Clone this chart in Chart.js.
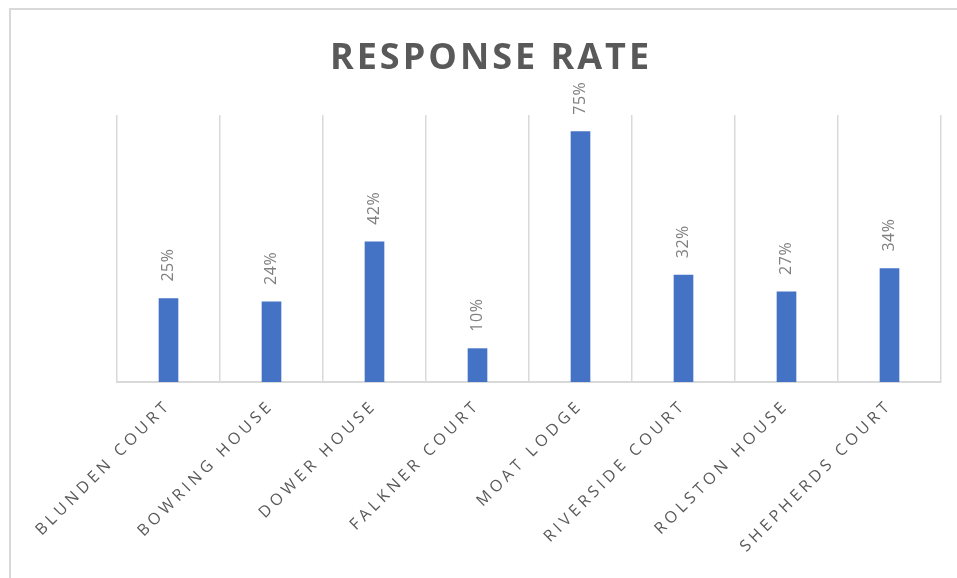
<!DOCTYPE html>
<html>
<head>
<meta charset="utf-8">
<title>Response Rate</title>
<script src="https://cdn.jsdelivr.net/npm/chart.js@4.4.1/dist/chart.umd.min.js"></script>
<style>
    body { margin: 0; background: #fff; }
    #wrap { width: 957px; height: 578px; }
</style>
</head>
<body>
<div id="wrap">
    <canvas id="rateChart" width="957" height="578"></canvas>
</div>
<script>
// Data
const chartTitle = 'RESPONSE RATE';
const sites = ['BLUNDEN COURT', 'BOWRING HOUSE', 'DOWER HOUSE', 'FALKNER COURT',
    'MOAT LODGE', 'RIVERSIDE COURT', 'ROLSTON HOUSE', 'SHEPHERDS COURT'];
const responseRate = [25, 24, 42, 10, 75, 32, 27, 34];
const yMax = 80;

// white background, frame lines on the top/left edges and the title
const framePlugin = {
    id: 'frame',
    beforeDraw(chart) {
        const ctx = chart.ctx;
        ctx.save();
        ctx.fillStyle = '#ffffff';
        ctx.fillRect(0, 0, chart.width, chart.height);
        ctx.strokeStyle = '#d9d9d9';
        ctx.lineWidth = 2;
        ctx.beginPath();
        ctx.moveTo(10, chart.height);
        ctx.lineTo(10, 9);
        ctx.lineTo(chart.width, 9);
        ctx.stroke();

        // title (centred on the whole frame, not the plot area)
        ctx.fillStyle = '#595959';
        ctx.font = 'bold 36px "Open Sans"';
        ctx.letterSpacing = '3px';
        ctx.textAlign = 'center';
        ctx.textBaseline = 'alphabetic';
        ctx.fillText(chartTitle, 491, 69);
        ctx.restore();

        ctx.letterSpacing = '4px'; // spaced-out category labels
    },
    beforeDatasetsDraw(chart) {
        chart.ctx.letterSpacing = '0px';
    },
    afterDraw(chart) {
        chart.ctx.letterSpacing = '0px';
    }
};

// rotated value labels above each bar
const valueLabels = {
    id: 'valueLabels',
    afterDatasetsDraw(chart) {
        const ctx = chart.ctx;
        const meta = chart.getDatasetMeta(0);
        ctx.save();
        ctx.fillStyle = '#808080';
        ctx.font = '16px "Open Sans"';
        ctx.letterSpacing = '0.5px';
        ctx.textAlign = 'left';
        ctx.textBaseline = 'middle';
        meta.data.forEach((bar, i) => {
            ctx.save();
            ctx.translate(bar.x, bar.y - 17);
            ctx.rotate(-Math.PI / 2);
            ctx.fillText(responseRate[i] + '%', 0, 0);
            ctx.restore();
        });
        ctx.restore();
    }
};

const ctx = document.getElementById('rateChart').getContext('2d');

new Chart(ctx, {
    type: 'bar',
    data: {
        labels: sites,
        datasets: [{
            label: 'Response rate',
            data: responseRate,
            backgroundColor: '#4472c4',
            barThickness: 19
        }]
    },
    options: {
        responsive: false,
        animation: false,
        layout: {
            padding: { left: 117, right: 16, top: 115, bottom: 0 }
        },
        plugins: {
            legend: { display: false },
            tooltip: { enabled: false },
            title: { display: false }
        },
        scales: {
            x: {
                grid: {
                    offset: true,
                    color: '#d9d9d9',
                    lineWidth: 1.5,
                    drawTicks: false
                },
                border: { color: '#d9d9d9', width: 2 },
                ticks: {
                    color: '#595959',
                    font: { family: '"Open Sans"', size: 16 },
                    minRotation: 45,
                    maxRotation: 45,
                    autoSkip: false,
                    padding: 14
                },
                afterFit(scale) {
                    scale.height = 196;
                }
            },
            y: {
                display: false,
                min: 0,
                max: yMax
            }
        }
    },
    plugins: [framePlugin, valueLabels]
});
</script>
</body>
</html>
